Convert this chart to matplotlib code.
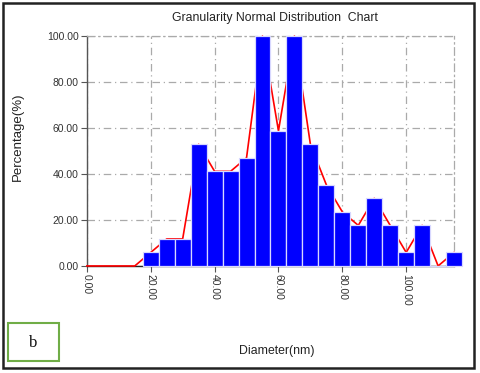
import matplotlib
matplotlib.use("Agg")
import matplotlib.pyplot as plt
from matplotlib.patches import Rectangle

plt.rcParams['font.family'] = ['Liberation Sans', 'DejaVu Sans']

# Data
diameters = [20, 25, 30, 35, 40, 45, 50, 55, 60, 65, 70, 75, 80, 85, 90, 95, 100, 105, 110, 115]
percent = [5.88, 11.76, 11.76, 52.94, 41.18, 41.18, 47.06, 100.0, 58.82, 100.0,
           52.94, 35.29, 23.53, 17.65, 29.41, 17.65, 5.88, 17.65, 0.0, 5.88]
line_x = [0, 5, 10, 15] + diameters
line_y = [0, 0, 0, 0] + percent
yticks = [0, 20, 40, 60, 80, 100]
xticks = [0, 20, 40, 60, 80, 100]
bar_width = 5

fig = plt.figure(figsize=(4.8, 3.73), dpi=100)
ax = fig.add_axes([0.181, 0.287, 0.765, 0.616])

ax.plot(line_x, line_y, color='red', lw=1.2, zorder=2.7, clip_on=False)
bars = ax.bar(diameters, percent, width=bar_width, color='#0000ff',
              edgecolor='#d8d8ff', linewidth=0.9, zorder=3)
for b in bars:
    b.set_clip_on(False)

ax.set_xlim(0, 115)
ax.set_ylim(0, 100)
ax.set_xticks(xticks)
ax.set_yticks(yticks)
ax.set_xticklabels([f"{v:.2f}" for v in xticks], rotation=-90, fontsize=7.5, color='#333333')
ax.set_yticklabels([f"{v:.2f}" for v in yticks], fontsize=7.5, color='#333333')
ax.tick_params(axis='both', length=4, width=0.8, color='#555555', pad=2)

ax.grid(True, color='#aaaaaa', linestyle=(0, (6, 3, 1, 3)), linewidth=0.9, zorder=0)
ax.set_axisbelow(True)
for s in ['top', 'right']:
    ax.spines[s].set_color('#aaaaaa')
    ax.spines[s].set_linestyle((0, (6, 3, 1, 3)))
    ax.spines[s].set_linewidth(0.9)
ax.spines['left'].set_color('#555555')
ax.spines['bottom'].set_color('#222222')
ax.spines['left'].set_linewidth(1.0)
ax.spines['bottom'].set_linewidth(1.0)

fig.text(275/480, 1-18/373, "Granularity Normal Distribution  Chart", ha='center', va='center',
         fontsize=8.8, color='#222222')
fig.text(18/480, 1-136.5/373, "Percentage(%)", ha='center', va='center', rotation=90,
         fontsize=9.5, color='#222222')
fig.text(277/480, 1-351/373, "Diameter(nm)", ha='center', va='center', fontsize=8.8, color='#222222')

# figure border
fig.patches.append(Rectangle((0.007, 0.013), 0.981, 0.978, transform=fig.transFigure,
                             fill=False, edgecolor='#222222', linewidth=1.8))
# label box
fig.patches.append(Rectangle((8/480, 1-361/373), 51/480, 38/373, transform=fig.transFigure,
                             fill=False, edgecolor='#70ad47', linewidth=1.5))
fig.text(33/480, 1-343/373, "b", ha='center', va='center', fontsize=12,
         family=['Liberation Serif', 'DejaVu Serif'], color='#111111')

fig.savefig("out.png", dpi=100)
